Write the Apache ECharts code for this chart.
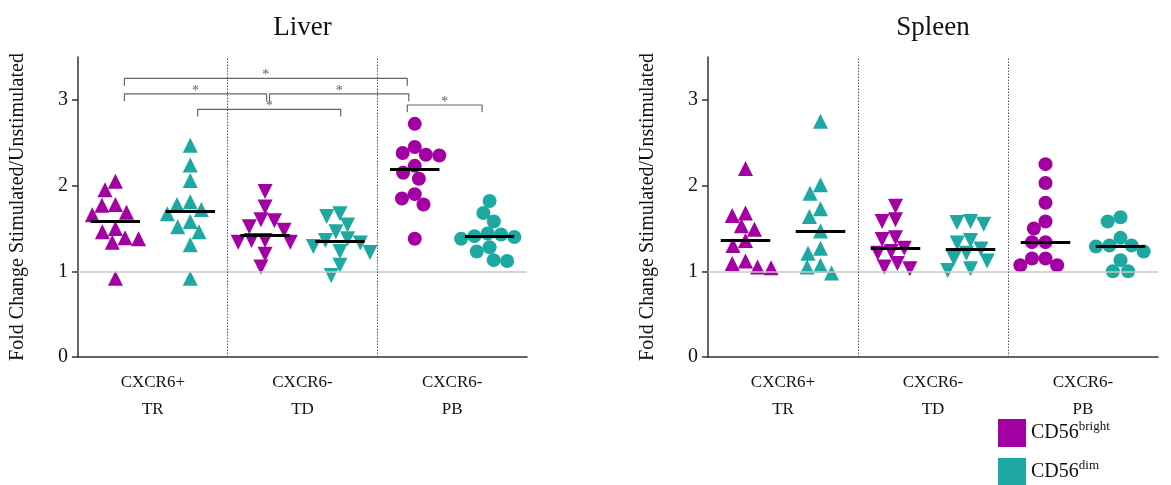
<!DOCTYPE html>
<html><head><meta charset="utf-8">
<script src="https://cdn.jsdelivr.net/npm/echarts@6/dist/echarts.min.js"></script>
<style>html,body{margin:0;padding:0;background:#fff}#c{width:1171px;height:485px}</style>
</head><body><div id="c"></div>
<script>
// ---------- data ----------
const panels = ['Liver', 'Spleen'];
const groupLabels = ['CXCR6+\nTR', 'CXCR6-\nTD', 'CXCR6-\nPB'];
const subsets = ['CD56bright', 'CD56dim'];
const subsetSup = ['bright', 'dim'];
const yTicks = [0, 1, 2, 3];
const yAxisTitle = 'Fold Change Stimulated/Unstimulated';

const liverTRbright = [2.05, 1.95, 1.77, 1.78, 1.66, 1.69, 1.46, 1.50, 1.38, 1.34, 1.39, 0.92];
const liverTRdim    = [2.47, 2.24, 2.06, 1.81, 1.78, 1.72, 1.67, 1.58, 1.52, 1.46, 1.31, 0.92];
const liverTDbright = [1.93, 1.75, 1.52, 1.59, 1.60, 1.48, 1.36, 1.34, 1.34, 1.36, 1.20, 1.05];
const liverTDdim    = [1.67, 1.64, 1.54, 1.46, 1.38, 1.36, 1.33, 1.29, 1.22, 1.23, 1.07, 0.95];
const liverPBbright = [2.72, 2.45, 2.36, 2.35, 2.38, 2.23, 2.15, 2.08, 1.85, 1.90, 1.78, 1.38];
const liverPBdim    = [1.82, 1.68, 1.58, 1.44, 1.41, 1.38, 1.40, 1.43, 1.28, 1.23, 1.13, 1.12];

const spleenTRbright = [2.20, 1.68, 1.65, 1.53, 1.49, 1.36, 1.30, 1.09, 1.12, 1.04, 1.05];
const spleenTRdim    = [2.75, 2.01, 1.91, 1.73, 1.64, 1.47, 1.27, 1.21, 1.07, 1.05, 0.98];
const spleenTDbright = [1.76, 1.58, 1.60, 1.37, 1.39, 1.27, 1.23, 1.21, 1.09, 1.03, 1.05];
const spleenTDdim    = [1.58, 1.55, 1.57, 1.36, 1.33, 1.26, 1.21, 1.12, 1.15, 1.01, 1.03];
const spleenPBbright = [2.25, 2.03, 1.80, 1.58, 1.50, 1.34, 1.34, 1.15, 1.15, 1.07, 1.07];
const spleenPBdim    = [1.63, 1.58, 1.39, 1.30, 1.30, 1.29, 1.23, 1.13, 1.00, 1.00];

// significance brackets (Liver): [from column x, to column x, bracket level]
const liverBrackets = [
  [0.62, 4.40, 3.25],
  [0.62, 2.52, 3.07],
  [2.56, 4.42, 3.07],
  [1.60, 3.51, 2.89],
  [4.40, 5.40, 2.94]
];
const sigLabel = '*';

// ---------- layout / style ----------
const SERIF = '"Liberation Serif", "DejaVu Serif", serif';
const MAG = '#A300A3';
const TEAL = '#1DA9A2';
const X_MAX = 6, Y_MAX = 3.5;
const grids = [
  {left: 78, top: 57, width: 449, height: 300},
  {left: 708, top: 57, width: 450, height: 300}
];
const panelData = [
  [[liverTRbright, liverTRdim], [liverTDbright, liverTDdim], [liverPBbright, liverPBdim]],
  [[spleenTRbright, spleenTRdim], [spleenTDbright, spleenTDdim], [spleenPBbright, spleenPBdim]]
];
const groupSymbols = [['triangle', 0, 15], ['triangle', 180, 15], ['circle', 0, 14]];

function median(a) {
  const s = a.slice().sort((x, y) => x - y);
  const n = s.length;
  return n % 2 ? s[(n - 1) / 2] : (s[n / 2 - 1] + s[n / 2]) / 2;
}
// simple beeswarm: place points (in px) as close to the column centre as possible without overlap
function swarm(values, center, sx, sy, D) {
  const order = values.map((v, i) => i).sort((a, b) => values[b] - values[a]);
  const placed = [];
  const out = new Array(values.length);
  for (const i of order) {
    const ypx = values[i] * sy;
    const cands = [0];
    for (const p of placed) {
      const dy = Math.abs(p[1] - ypx);
      if (dy < D) { const dx = Math.sqrt(D * D - dy * dy); cands.push(p[0] + dx, p[0] - dx); }
    }
    cands.sort((a, b) => Math.abs(a) - Math.abs(b) || a - b);
    let chosen = 0;
    for (const c of cands) {
      if (placed.every(p => (p[0] - c) ** 2 + (p[1] - ypx) ** 2 >= D * D - 0.01)) { chosen = c; break; }
    }
    placed.push([chosen, ypx]);
    out[i] = [center + chosen / sx, values[i]];
  }
  return out;
}

const series = [];
panelData.forEach((groups, p) => {
  const sx = grids[p].width / X_MAX, sy = grids[p].height / Y_MAX;
  series.push({
    type: 'line', xAxisIndex: p, yAxisIndex: p, data: [[0, 0]], showSymbol: false, silent: true,
    lineStyle: {width: 0}, z: 1,
    markLine: {
      silent: true, symbol: 'none', label: {show: false}, animation: false,
      data: [
        {yAxis: 1, lineStyle: {color: '#c9c9c9', width: 1.5, type: 'solid'}},
        {xAxis: 2, lineStyle: {color: '#555', width: 1, type: [1.5, 1.5]}},
        {xAxis: 4, lineStyle: {color: '#555', width: 1, type: [1.5, 1.5]}}
      ]
    }
  });
  groups.forEach((pair, g) => {
    pair.forEach((vals, s) => {
      const cx = 2 * g + s + 0.5;
      const med = median(vals);
      const [sym, rot, size] = groupSymbols[g];
      series.push({
        type: 'scatter', name: subsets[s], xAxisIndex: p, yAxisIndex: p,
        symbol: sym, symbolRotate: rot, symbolSize: size,
        itemStyle: {color: s === 0 ? MAG : TEAL, opacity: 1},
        data: swarm(vals, cx, sx, sy, 13.5), z: 3,
        markLine: {
          silent: true, symbol: 'none', label: {show: false}, animation: false, z: 5,
          lineStyle: {color: '#000', width: 3, type: 'solid'},
          data: [[{coord: [cx - 0.33, med]}, {coord: [cx + 0.33, med]}]]
        }
      });
    });
  });
});
liverBrackets.forEach(([x1, x2, y]) => {
  series.push({
    type: 'line', xAxisIndex: 0, yAxisIndex: 0, silent: true, symbol: 'none', z: 4,
    lineStyle: {color: '#666', width: 1.2},
    data: [[x1, y - 0.085], [x1, y], [x2, y], [x2, y - 0.085]]
  });
  series.push({
    type: 'scatter', xAxisIndex: 0, yAxisIndex: 0, silent: true, symbolSize: 0, z: 4,
    data: [[(x1 + x2) / 2, y]],
    label: {show: true, position: 'inside', offset: [0, -3], formatter: sigLabel,
            fontFamily: SERIF, fontSize: 14, color: '#333'}
  });
});

const xAxes = grids.map((g, p) => ({
  type: 'value', gridIndex: p, min: 0, max: X_MAX, interval: 1,
  splitLine: {show: false},
  axisLine: {lineStyle: {color: '#333', width: 1.5}},
  axisTick: {show: false},
  axisLabel: {
    customValues: [1, 3, 5],
    formatter: v => groupLabels[(v - 1) / 2] || '',
    fontFamily: SERIF, fontSize: 17, color: '#111', lineHeight: 27, margin: 12
  }
}));
const yAxes = grids.map((g, p) => ({
  type: 'value', gridIndex: p, min: 0, max: Y_MAX, interval: 1,
  splitLine: {show: false},
  axisLine: {show: true, lineStyle: {color: '#333', width: 1.5}},
  axisTick: {show: true, customValues: yTicks, length: 6, lineStyle: {color: '#333', width: 1.5}},
  axisLabel: {customValues: yTicks, fontFamily: SERIF, fontSize: 20, color: '#111', margin: 10},
  name: yAxisTitle, nameLocation: 'middle', nameGap: 50, nameRotate: 90,
  nameTextStyle: {fontFamily: SERIF, fontSize: 20, color: '#111'}
}));

const legends = subsets.map((name, i) => ({
  left: 993, top: 414 + i * 39, itemWidth: 28, itemHeight: 28,
  selectedMode: false,
  data: [{name: name, icon: 'rect'}],
  formatter: () => 'CD56{s|' + subsetSup[i] + '}',
  textStyle: {fontFamily: SERIF, fontSize: 20, color: '#111',
    rich: {s: {fontFamily: SERIF, fontSize: 13, color: '#111', padding: [0, 0, 12, 0]}}}
}));

const chart = echarts.init(document.getElementById('c'), null, {renderer: 'canvas'});
chart.setOption({
  animation: false,
  backgroundColor: '#fff',
  grid: grids,
  xAxis: xAxes,
  yAxis: yAxes,
  series: series,
  legend: legends,
  graphic: panels.map((t, p) => ({
    type: 'text', x: grids[p].left + grids[p].width / 2, y: 28, silent: true,
    style: {text: t, textAlign: 'center', textVerticalAlign: 'middle',
            font: '27px ' + SERIF, fill: '#111'}
  }))
});
</script></body></html>
